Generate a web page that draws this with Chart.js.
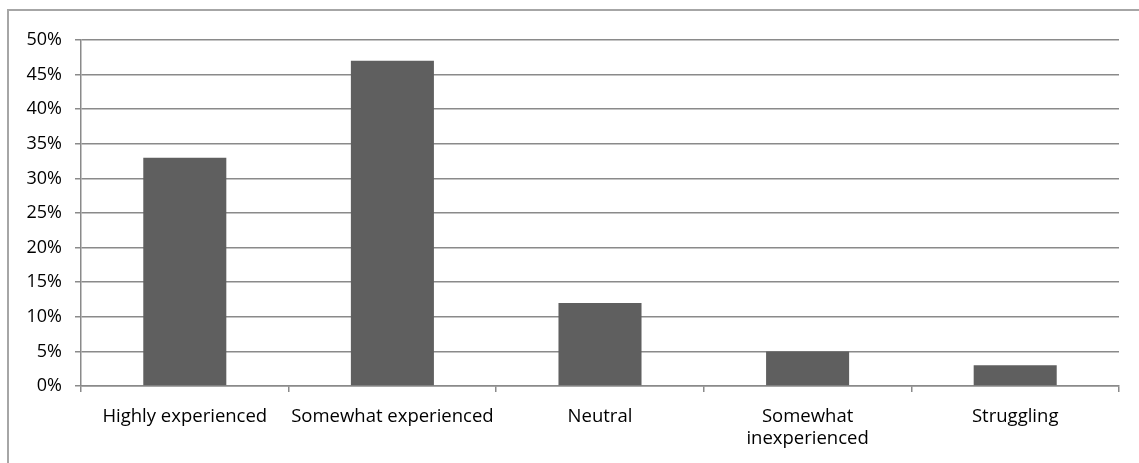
<!DOCTYPE html>
<html>
<head>
<meta charset="utf-8">
<script src="https://cdn.jsdelivr.net/npm/chart.js@4/dist/chart.umd.min.js"></script>
<style>
  html, body { margin: 0; padding: 0; background: #ffffff; overflow: hidden; }
  #wrap { position: relative; width: 1139px; height: 463px; }
  #frame { position: absolute; left: 7px; top: 9px; width: 1200px; height: 500px;
           border: 2px solid #a6a6a6; box-sizing: border-box; }
  #c { position: absolute; left: 0; top: 0; }
</style>
</head>
<body>
<div id="wrap">
  <div id="frame"></div>
  <canvas id="c" width="1139" height="463"></canvas>
</div>
<script>
// Self-rated experience levels and share of respondents (%)
const categories = [
  'Highly experienced',
  'Somewhat experienced',
  'Neutral',
  ['Somewhat', 'inexperienced'],
  'Struggling'
];
const shares = [33, 47, 12, 5, 3];
const yTickMax = 50;
const yTickStep = 5;

const FONT = '"Open Sans", Lato, sans-serif';
const GRID = '#8a8a8a';

new Chart(document.getElementById('c'), {
  type: 'bar',
  data: {
    labels: categories,
    datasets: [{
      data: shares,
      backgroundColor: '#5f5f5f',
      borderWidth: 0,
      categoryPercentage: 0.4,
      barPercentage: 1.0
    }]
  },
  options: {
    responsive: false,
    animation: false,
    devicePixelRatio: 1,
    layout: { padding: { left: 0, top: 40, right: 20, bottom: 0 } },
    plugins: { legend: { display: false }, tooltip: { enabled: false } },
    scales: {
      x: {
        grid: {
          offset: true,
          drawOnChartArea: false,
          drawTicks: true,
          tickLength: 6,
          color: GRID,
          lineWidth: 1.5
        },
        border: { display: true, color: GRID, width: 1.5 },
        ticks: {
          color: '#000000',
          font: { family: FONT, size: 18.5, lineHeight: 1.22 },
          padding: 13,
          maxRotation: 0,
          autoSkip: false
        },
        afterFit: (s) => { s.height = 77; }
      },
      y: {
        min: 0,
        max: yTickMax,
        grid: {
          color: GRID,
          lineWidth: 1.5,
          tickLength: 6
        },
        border: { display: true, color: GRID, width: 1.5 },
        ticks: {
          stepSize: yTickStep,
          color: '#000000',
          font: { family: FONT, size: 18 },
          padding: 13,
          callback: (v) => v + '%'
        },
        afterFit: (s) => { s.width = 81; }
      }
    }
  }
});
</script>
</body>
</html>
